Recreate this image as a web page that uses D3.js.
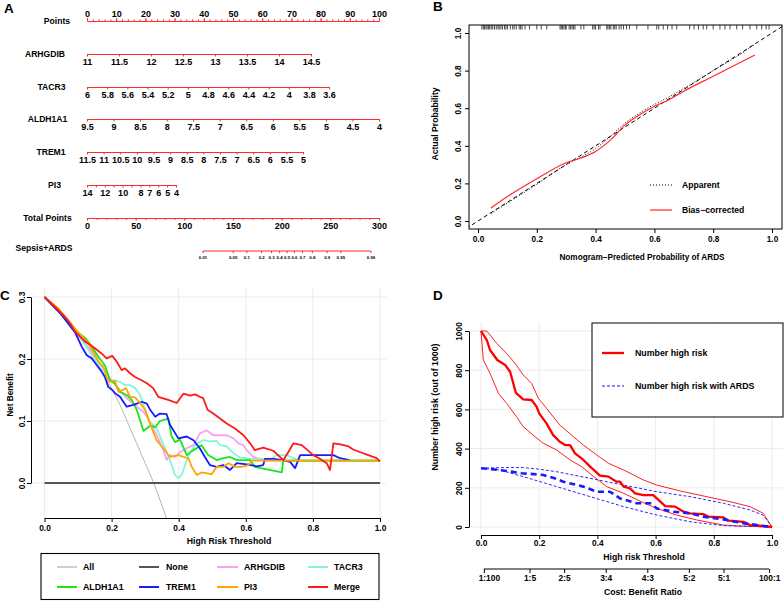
<!DOCTYPE html>
<html><head><meta charset="utf-8">
<script src="https://cdn.jsdelivr.net/npm/d3@7/dist/d3.min.js"></script>
<style>
body{margin:0;background:#fff}
svg{font-family:"Liberation Sans",Arial,Helvetica,sans-serif;font-weight:bold}
</style></head>
<body><svg id="chart" width="784" height="601"></svg>
<script>
// ================= DATA =================
// Panel A – nomogram
const pointsTicks=[0,10,20,30,40,50,60,70,80,90,100];
const pointsMinor=d3.range(0,101,2);
const nomoVars=["ARHGDIB","TACR3","ALDH1A1","TREM1","PI3"];
const arhgdibTicks=[11,11.5,12,12.5,13,13.5,14,14.5];
const tacr3Ticks=[6,5.8,5.6,5.4,5.2,5,4.8,4.6,4.4,4.2,4,3.8,3.6];
const aldh1a1Ticks=[9.5,9,8.5,8,7.5,7,6.5,6,5.5,5,4.5,4];
const trem1Ticks=[11.5,11,10.5,10,9.5,9,8.5,8,7.5,7,6.5,6,5.5,5];
const pi3Ticks=[14,13,12,11,10,9,8,7,6,5,4];
const pi3Labels=[14,12,10,8,7,6,5,4];
const nomoMaxPoints=[76.7,82.9,100,74,30.5];
const totalPointsTicks=[0,50,100,150,200,250,300];
const totalPointsMinor=d3.range(0,301,10);
const riskTicks=[0.01,0.05,0.1,0.2,0.3,0.4,0.5,0.6,0.7,0.8,0.9,0.95,0.99];
const riskPointsRange=[119.2,291.8];

// Panel B – calibration
const calTicks=[0,0.2,0.4,0.6,0.8,1.0];
const apparentX=[0.044,0.1,0.2,0.3,0.35,0.4,0.45,0.5,0.55,0.6,0.65,0.7,0.8,0.9,0.942];
const apparentY=[0.04,0.095,0.195,0.3,0.34,0.385,0.45,0.52,0.575,0.62,0.66,0.705,0.8,0.895,0.94];
const biasX=[0.044,0.1,0.2,0.3,0.35,0.4,0.45,0.5,0.55,0.6,0.65,0.7,0.8,0.9,0.942];
const biasY=[0.069,0.13,0.225,0.31,0.335,0.37,0.43,0.51,0.565,0.61,0.645,0.69,0.77,0.85,0.883];
const rugValues=[0.013,0.018,0.022,0.027,0.031,0.036,0.04,0.045,0.05,0.056,0.062,0.068,0.072,0.078,0.083,0.09,0.095,0.1,0.11,0.118,0.123,0.13,0.14,0.145,0.15,0.16,0.175,0.2,0.215,0.234,
0.279,0.283,0.287,0.292,0.297,0.3,0.31,0.315,0.32,0.325,0.33,0.35,0.36,0.39,0.395,0.4,0.41,0.415,
0.438,0.442,0.447,0.452,0.46,0.465,0.47,0.48,0.487,0.495,0.505,0.515,0.54,
0.578,0.608,0.615,0.63,0.645,0.66,0.676,0.72,0.735,0.75,0.766,0.778,0.8,0.823,0.84,0.857,0.88,0.9,0.925,0.948,0.965,0.98,0.99];

// Panel C – decision curves
const dcaTicksX=[0,0.2,0.4,0.6,0.8,1.0];
const dcaTicksY=[0,0.1,0.2,0.3];
const allT=[0,0.1,0.15,0.2,0.225,0.25,0.3,0.324,0.34,0.37];
const allNB=[0.3,0.237,0.2,0.152,0.126,0.095,0.032,0.002,-0.021,-0.067];
const noneT=[0,1];
const noneNB=[0,0];
const arhgdibT=[0,0.05,0.1,0.15,0.2,0.225,0.245,0.275,0.295,0.309,0.324,0.339,0.354,0.364,0.374,0.389,0.404,0.424,0.444,0.463,0.483,0.503,0.523,0.543,0.563,0.578,0.593,0.603,0.622,0.642,0.66,1.0];
const arhgdibNB=[0.3,0.273,0.24,0.205,0.165,0.15,0.137,0.123,0.115,0.104,0.088,0.072,0.053,0.037,0.045,0.042,0.05,0.056,0.061,0.08,0.085,0.077,0.077,0.077,0.072,0.064,0.061,0.053,0.042,0.039,0.036,0.036];
const tacr3T=[0,0.05,0.101,0.121,0.141,0.16,0.18,0.195,0.21,0.225,0.24,0.255,0.27,0.285,0.3,0.314,0.334,0.349,0.364,0.379,0.389,0.399,0.409,0.419,0.434,0.454,0.473,0.493,0.513,0.523,0.543,0.563,0.583,0.622,0.652,0.672,0.692,0.722,0.742,0.76,1.0];
const tacr3NB=[0.3,0.274,0.241,0.223,0.206,0.193,0.171,0.166,0.165,0.163,0.158,0.158,0.153,0.142,0.118,0.099,0.088,0.069,0.05,0.029,0.013,0.008,0.013,0.029,0.05,0.064,0.069,0.067,0.068,0.061,0.059,0.048,0.041,0.039,0.039,0.037,0.045,0.045,0.04,0.036,0.036];
const aldh1a1T=[0,0.05,0.091,0.121,0.141,0.16,0.18,0.195,0.21,0.225,0.245,0.26,0.275,0.295,0.314,0.33,0.344,0.369,0.379,0.389,0.404,0.424,0.444,0.468,0.488,0.513,0.533,0.553,0.573,0.613,0.627,0.707,0.712,1.0];
const aldh1a1NB=[0.3,0.273,0.246,0.234,0.22,0.204,0.19,0.166,0.16,0.147,0.142,0.134,0.118,0.084,0.092,0.09,0.1,0.104,0.075,0.066,0.07,0.045,0.053,0.061,0.045,0.037,0.04,0.042,0.037,0.037,0.026,0.017,0.036,0.036];
const trem1T=[0,0.05,0.091,0.111,0.126,0.141,0.156,0.17,0.18,0.19,0.202,0.21,0.225,0.245,0.265,0.29,0.305,0.315,0.33,0.344,0.364,0.374,0.399,0.424,0.444,0.463,0.478,0.493,0.513,0.533,0.553,0.573,0.603,0.632,0.652,0.657,0.682,0.712,0.732,0.747,0.762,0.861,0.881,0.91];
const trem1NB=[0.3,0.272,0.243,0.22,0.206,0.201,0.19,0.18,0.171,0.155,0.15,0.145,0.139,0.123,0.126,0.131,0.128,0.118,0.107,0.112,0.111,0.094,0.072,0.075,0.069,0.056,0.042,0.029,0.026,0.029,0.021,0.032,0.03,0.027,0.029,0.039,0.039,0.037,0.034,0.024,0.045,0.045,0.04,0.037];
const pi3T=[0,0.041,0.091,0.131,0.151,0.163,0.175,0.185,0.195,0.21,0.22,0.233,0.243,0.255,0.27,0.285,0.3,0.314,0.334,0.354,0.374,0.399,0.414,0.429,0.439,0.454,0.468,0.483,0.498,0.513,0.533,0.548,0.568,0.588,0.607,0.618,1.0];
const pi3NB=[0.3,0.282,0.249,0.225,0.206,0.194,0.188,0.171,0.163,0.165,0.147,0.15,0.153,0.139,0.138,0.129,0.118,0.096,0.069,0.056,0.042,0.045,0.042,0.04,0.026,0.013,0.017,0.016,0.014,0.026,0.026,0.032,0.026,0.026,0.029,0.036,0.036];
const mergeT=[0,0.041,0.061,0.076,0.091,0.106,0.121,0.136,0.151,0.17,0.185,0.202,0.215,0.23,0.24,0.255,0.27,0.285,0.305,0.324,0.339,0.369,0.394,0.414,0.434,0.449,0.463,0.473,0.486,0.503,0.523,0.543,0.568,0.593,0.613,0.627,0.652,0.682,0.712,0.727,0.742,0.767,0.801,0.821,0.841,0.851,0.861,0.886,0.906,0.92,0.94,0.965,0.99,1.0];
const mergeNB=[0.3,0.279,0.268,0.258,0.244,0.236,0.228,0.223,0.217,0.209,0.201,0.205,0.196,0.182,0.185,0.177,0.171,0.167,0.161,0.153,0.139,0.134,0.129,0.144,0.141,0.143,0.139,0.137,0.118,0.112,0.104,0.096,0.088,0.077,0.064,0.053,0.057,0.052,0.037,0.05,0.064,0.061,0.045,0.039,0.032,0.021,0.064,0.062,0.059,0.054,0.05,0.045,0.04,0.035];

// Panel D – clinical impact
const impactTicksX=[0,0.2,0.4,0.6,0.8,1.0];
const impactTicksY=[0,200,400,600,800,1000];
const highRiskT=[0,0.02,0.031,0.056,0.083,0.1,0.12,0.145,0.174,0.191,0.2,0.225,0.248,0.271,0.289,0.306,0.323,0.352,0.375,0.409,0.438,0.466,0.478,0.49,0.512,0.529,0.558,0.592,0.604,0.633,0.667,0.696,0.718,0.764,0.78,0.833,0.85,0.902,0.924,0.97,1.0];
const highRiskN=[1000,954,903,852,827,792,684,651,648,614,580,529,469,435,418,418,376,342,308,262,257,231,231,206,197,172,163,163,146,107,104,78,70,66,53,49,32,26,10,5,0];
const highRiskUpT=[0,0.02,0.054,0.088,0.117,0.145,0.174,0.197,0.225,0.271,0.311,0.352,0.398,0.438,0.49,0.558,0.604,0.684,0.787,0.856,0.924,0.97,1.0];
const highRiskUpN=[1000,1000,937,886,835,776,733,657,606,520,469,418,367,325,291,240,214,184,151,129,104,70,0];
const highRiskLoT=[0,0.008,0.031,0.06,0.088,0.122,0.145,0.179,0.214,0.26,0.306,0.346,0.385,0.432,0.49,0.558,0.604,0.672,0.741,0.833,0.89,1.0];
const highRiskLoN=[1000,852,784,682,631,563,512,469,427,393,342,308,260,206,172,124,95,61,36,10,5,0];
const eventT=[0,0.03,0.088,0.14,0.18,0.214,0.25,0.283,0.352,0.398,0.443,0.478,0.535,0.581,0.604,0.661,0.718,0.764,0.833,0.902,0.948,1.0];
const eventN=[300,296,286,274,270,265,250,231,206,180,180,146,121,121,95,78,70,53,39,19,10,0];
const eventUpT=[0,0.05,0.1,0.145,0.2,0.26,0.375,0.49,0.604,0.718,0.833,0.924,0.97,0.99,1.0];
const eventUpN=[300,302,304,303,295,282,248,214,180,155,121,87,60,20,0];
const eventLoT=[0,0.065,0.145,0.26,0.375,0.49,0.604,0.718,0.833,1.0];
const eventLoN=[300,291,257,206,155,104,61,27,7,0];
const costBenefitLabels=["1:100","1:5","2:5","3:4","4:3","5:2","5:1","100:1"];

// ================= DRAWING =================
const svg=d3.select("#chart");
const RED="#ff2a2a";
const zip=(a,b)=>a.map((v,i)=>[v,b[i]]);
function text(g,x,y,s,size,anchor,rot){
  const t=g.append("text").attr("font-size",size).attr("text-anchor",anchor||"start").attr("fill","#000").text(s);
  if(rot) t.attr("transform",`translate(${x},${y}) rotate(${rot})`); else t.attr("x",x).attr("y",y);
  return t;
}
function cleanAxis(a){a.attr("font-family",null).attr("font-size",null);return a;}

// ---------- Panel A ----------
const gA=svg.append("g");
text(gA,4,12.5,"A",13.5);
const ptsX=d3.scaleLinear().domain([0,100]).range([87,379]);
function nomoAxis(scale,ticks,labels,y,up,tickLen,labelY,fs){
  const ax=(up?d3.axisTop(scale):d3.axisBottom(scale)).tickValues(ticks).tickSize(tickLen).tickSizeOuter(0)
    .tickFormat(d=>labels.includes(d)?String(d):"");
  const a=cleanAxis(gA.append("g").attr("transform",`translate(0,${y})`).call(ax));
  a.select(".domain").attr("stroke",RED).attr("stroke-width",1.1);
  a.selectAll(".tick line").attr("stroke",RED);
  a.selectAll(".tick text").attr("y",labelY).attr("dy",null).attr("fill","#000").attr("font-size",fs);
  return a;
}
// Points
nomoAxis(ptsX,pointsMinor,[],21,true,1.6,0,9);
nomoAxis(ptsX,pointsTicks,pointsTicks,21,true,3,-4,9);
const rowLabelX=[57,45,51.5,47.5,51,54.5,47.5,44];
text(gA,rowLabelX[0],23.5,"Points",8.6,"middle");
// variable rows
const varTicks=[arhgdibTicks,tacr3Ticks,aldh1a1Ticks,trem1Ticks,pi3Ticks];
const varLabels=[arhgdibTicks,tacr3Ticks,aldh1a1Ticks,trem1Ticks,pi3Labels];
const rowY=[54,87,119,152,185];
nomoVars.forEach((name,i)=>{
  const tk=varTicks[i];
  const sc=d3.scaleLinear().domain([tk[0],tk[tk.length-1]]).range([ptsX(0),ptsX(nomoMaxPoints[i])]);
  nomoAxis(sc,tk,varLabels[i],rowY[i],false,2.5,11,9);
  text(gA,rowLabelX[i+1],rowY[i]+2.5,name,8.6,"middle");
});
// Total points
const totX=d3.scaleLinear().domain([0,300]).range([87,379]);
nomoAxis(totX,totalPointsMinor,[],218,false,1.8,0,9);
nomoAxis(totX,totalPointsTicks,totalPointsTicks,218,false,2.5,10.5,9);
text(gA,rowLabelX[6],220.5,"Total Points",8.6,"middle");
// Risk axis (logit scale)
const logit=p=>Math.log(p/(1-p));
const lpToPts=d3.scaleLinear().domain([logit(0.01),logit(0.99)]).range(riskPointsRange);
const riskScale=p=>totX(lpToPts(logit(p)));
riskScale.copy=()=>riskScale; riskScale.range=()=>[riskScale(0.01),riskScale(0.99)]; riskScale.domain=()=>[0.01,0.99];
{
  const a=gA.append("g").attr("transform","translate(0,251)");
  a.append("line").attr("x1",riskScale(0.01)).attr("x2",riskScale(0.99)).attr("stroke",RED).attr("stroke-width",1.1);
  const t=a.selectAll("g").data(riskTicks).join("g").attr("transform",d=>`translate(${riskScale(d)},0)`);
  t.append("line").attr("y2",2.2).attr("stroke",RED);
  t.append("text").attr("y",8).attr("font-size",4.4).attr("text-anchor","middle").text(d=>String(d));
}
text(gA,rowLabelX[7],251,"Sepsis+ARDS",8.6,"middle");

// ---------- Panel B ----------
const gB=svg.append("g");
text(gB,433,11,"B",13.5);
const bx=d3.scaleLinear().domain([0,1]).range([478,772]);
const by=d3.scaleLinear().domain([0,1]).range([221,33]);
const boxB={x0:469,x1:782,y0:25,y1:229};
gB.append("clipPath").attr("id","clipB").append("rect").attr("x",boxB.x0).attr("y",boxB.y0).attr("width",boxB.x1-boxB.x0).attr("height",boxB.y1-boxB.y0);
gB.append("rect").attr("x",boxB.x0).attr("y",boxB.y0).attr("width",boxB.x1-boxB.x0).attr("height",boxB.y1-boxB.y0).attr("fill","none").attr("stroke","#000").attr("stroke-width",1);
// x axis
{
  const a=cleanAxis(gB.append("g").attr("transform",`translate(0,${boxB.y1})`).call(d3.axisBottom(bx).tickValues(calTicks).tickSize(4).tickFormat(d3.format(".1f"))));
  a.select(".domain").remove();
  a.selectAll(".tick text").attr("y",13).attr("dy",null).attr("font-size",8.2).attr("fill","#000");
  const b=cleanAxis(gB.append("g").attr("transform",`translate(${boxB.x0},0)`).call(d3.axisLeft(by).tickValues(calTicks).tickSize(4).tickFormat(d3.format(".1f"))));
  b.select(".domain").remove();
  b.selectAll(".tick text").attr("x",null).attr("dy",null).attr("text-anchor","middle").attr("transform","translate(-8,0) rotate(-90)").attr("font-size",8.2).attr("fill","#000");
}
text(gB,642,260,"Nomogram\u2212Predicted Probability of ARDS",8.2,"middle");
text(gB,438,124,"Actual Probability",8.6,"middle",-90);
const cB=gB.append("g").attr("clip-path","url(#clipB)");
cB.append("line").attr("x1",bx(-0.04)).attr("y1",by(-0.04)).attr("x2",bx(1.05)).attr("y2",by(1.05)).attr("stroke","#000").attr("stroke-dasharray","4,3").attr("stroke-width",1);
const lineB=d3.line().x(d=>bx(d[0])).y(d=>by(d[1])).curve(d3.curveMonotoneX);
cB.append("path").attr("d",lineB(zip(apparentX,apparentY))).attr("fill","none").attr("stroke","#000").attr("stroke-width",1).attr("stroke-dasharray","1,2");
cB.append("path").attr("d",lineB(zip(biasX,biasY))).attr("fill","none").attr("stroke",RED).attr("stroke-width",1.2);
cB.selectAll(".rug").data(rugValues).join("line").attr("x1",d=>bx(d)).attr("x2",d=>bx(d)).attr("y1",boxB.y0).attr("y2",boxB.y0+4.5).attr("stroke","#000").attr("stroke-width",0.7);
gB.append("line").attr("x1",650).attr("x2",672).attr("y1",185).attr("y2",185).attr("stroke","#000").attr("stroke-dasharray","1,2");
text(gB,682,188,"Apparent",8.6);
gB.append("line").attr("x1",650).attr("x2",672).attr("y1",210).attr("y2",210).attr("stroke",RED).attr("stroke-width",1.2);
text(gB,682,213,"Bias\u2212corrected",8.6);

// ---------- Panel C ----------
const gC=svg.append("g");
text(gC,0,300,"C",13.5);
const cx=d3.scaleLinear().domain([0,1]).range([44.5,380]);
const cy=d3.scaleLinear().domain([0,0.3]).range([483,297]);
const grid="#ebebeb";
gC.selectAll(".gv").data(dcaTicksX).join("line").attr("x1",d=>cx(d)).attr("x2",d=>cx(d)).attr("y1",288).attr("y2",518).attr("stroke",grid);
gC.selectAll(".gh").data(dcaTicksY).join("line").attr("x1",31).attr("x2",386).attr("y1",d=>cy(d)).attr("y2",d=>cy(d)).attr("stroke",grid);
{
  const a=cleanAxis(gC.append("g").attr("transform","translate(0,518)").call(d3.axisBottom(cx).tickValues(dcaTicksX).tickSize(4).tickSizeOuter(0).tickFormat(d3.format(".1f"))));
  a.select(".domain").attr("stroke","#000");
  a.selectAll(".tick text").attr("y",13).attr("dy",null).attr("font-size",8.4).attr("fill","#000");
  const b=cleanAxis(gC.append("g").attr("transform","translate(31,0)").call(d3.axisLeft(cy).tickValues(dcaTicksY).tickSize(4).tickSizeOuter(0).tickFormat(d3.format(".1f"))));
  b.select(".domain").attr("stroke","#000");
  b.selectAll(".tick text").attr("x",null).attr("dy",null).attr("text-anchor","middle").attr("transform","translate(-6,0) rotate(-90)").attr("font-size",8.4).attr("fill","#000");
}
text(gC,229,544,"High Risk Threshold",8.7,"middle");
text(gC,13,395,"Net Benefit",8.2,"middle",-90);
gC.append("clipPath").attr("id","clipC").append("rect").attr("x",31).attr("y",285).attr("width",355).attr("height",233);
const cC=gC.append("g").attr("clip-path","url(#clipC)");
const lineC=d3.line().x(d=>cx(d[0])).y(d=>cy(d[1]));
const dcaSeries=[
  {name:"All",t:allT,v:allNB,color:"#b5b5b5",w:1,curve:true},
  {name:"None",t:noneT,v:noneNB,color:"#555555",w:1.8},
  {name:"ARHGDIB",t:arhgdibT,v:arhgdibNB,color:"#f7a1f2",w:1.8},
  {name:"TACR3",t:tacr3T,v:tacr3NB,color:"#84f5d5",w:1.8},
  {name:"ALDH1A1",t:aldh1a1T,v:aldh1a1NB,color:"#17e617",w:1.8},
  {name:"TREM1",t:trem1T,v:trem1NB,color:"#1a1aff",w:1.8},
  {name:"PI3",t:pi3T,v:pi3NB,color:"#ffa500",w:1.8},
  {name:"Merge",t:mergeT,v:mergeNB,color:"#ff1a1a",w:1.8}
];
dcaSeries.forEach(s=>{
  const ln=s.curve?d3.line().x(d=>cx(d[0])).y(d=>cy(d[1])).curve(d3.curveMonotoneX):lineC;
  cC.append("path").attr("d",ln(zip(s.t,s.v))).attr("fill","none").attr("stroke",s.color).attr("stroke-width",s.w).attr("stroke-linejoin","round");
});
// legend C
gC.append("rect").attr("x",41).attr("y",553.5).attr("width",338).attr("height",46).attr("fill","#fff").attr("stroke","#000").attr("stroke-width",1.1);
const legCols=[[57,77,83],[139,159,166],[217,238,244],[308,328,334]];
const legRows=[567,587];
dcaSeries.forEach((s,i)=>{
  const c=legCols[i%4], r=legRows[Math.floor(i/4)];
  gC.append("line").attr("x1",c[0]).attr("x2",c[1]).attr("y1",r).attr("y2",r).attr("stroke",s.color).attr("stroke-width",i===0?1.3:2);
  text(gC,c[2],r+3,s.name,8.8);
});

// ---------- Panel D ----------
const gD=svg.append("g");
text(gD,433,300,"D",13.5);
const dx=d3.scaleLinear().domain([0,1]).range([481,772]);
const dy=d3.scaleLinear().domain([0,1000]).range([527,331]);
gD.selectAll(".gv").data(impactTicksX).join("line").attr("x1",d=>dx(d)).attr("x2",d=>dx(d)).attr("y1",322).attr("y2",535).attr("stroke",grid);
gD.selectAll(".gh").data(impactTicksY).join("line").attr("x1",469).attr("x2",783).attr("y1",d=>dy(d)).attr("y2",d=>dy(d)).attr("stroke",grid);
{
  const a=cleanAxis(gD.append("g").attr("transform","translate(0,535)").call(d3.axisBottom(dx).tickValues(impactTicksX).tickSize(4).tickSizeOuter(0).tickFormat(d3.format(".1f"))));
  a.select(".domain").attr("stroke","#000");
  a.selectAll(".tick text").attr("y",11).attr("dy",null).attr("font-size",8.4).attr("fill","#000");
  const b=cleanAxis(gD.append("g").attr("transform","translate(469,0)").call(d3.axisLeft(dy).tickValues(impactTicksY).tickSize(4).tickSizeOuter(0).tickFormat(d3.format("d"))));
  b.select(".domain").attr("stroke","#000");
  b.selectAll(".tick text").attr("x",null).attr("dy",null).attr("text-anchor","middle").attr("transform","translate(-7,0) rotate(-90)").attr("font-size",8.4).attr("fill","#000");
  // cost:benefit axis
  const cbT=costBenefitLabels.map(s=>{const [a1,b1]=s.split(":").map(Number);return a1/(a1+b1);});
  const c=cleanAxis(gD.append("g").attr("transform","translate(0,569)").call(d3.axisBottom(dx).tickValues(cbT).tickSize(4).tickSizeOuter(0).tickFormat((d,i)=>costBenefitLabels[i])));
  c.select(".domain").attr("d",`M${dx(cbT[0])},0H${dx(cbT[cbT.length-1])}`).attr("stroke","#000");
  c.selectAll(".tick text").attr("y",12).attr("dy",null).attr("font-size",8.4).attr("fill","#000");
  c.selectAll(".tick text").filter((d,i)=>i===0).attr("dx",5);
}
text(gD,644,560,"High risk Threshold",8.7,"middle");
text(gD,643,595,"Cost: Benefit Ratio",8.7,"middle");
text(gD,438,407,"Number high risk (out of 1000)",8.8,"middle",-90);
const lineD=d3.line().x(d=>dx(d[0])).y(d=>dy(d[1]));
const impactSeries=[
  {t:highRiskUpT,v:highRiskUpN,color:"#ff2020",w:1,dash:null},
  {t:highRiskLoT,v:highRiskLoN,color:"#ff2020",w:1,dash:null},
  {t:eventUpT,v:eventUpN,color:"#2a2aff",w:1,dash:"3,2"},
  {t:eventLoT,v:eventLoN,color:"#2a2aff",w:1,dash:"3,2"},
  {t:highRiskT,v:highRiskN,color:"#ff0000",w:2.3,dash:null},
  {t:eventT,v:eventN,color:"#1a1aff",w:2.6,dash:"6,4"}
];
impactSeries.forEach(s=>{
  gD.append("path").attr("d",lineD(zip(s.t,s.v))).attr("fill","none").attr("stroke",s.color).attr("stroke-width",s.w).attr("stroke-dasharray",s.dash).attr("stroke-linejoin","round");
});
gD.append("rect").attr("x",592).attr("y",323).attr("width",191).attr("height",94).attr("fill","#fff").attr("stroke","#000").attr("stroke-width",1);
gD.append("line").attr("x1",602).attr("x2",624).attr("y1",353).attr("y2",353).attr("stroke","#ff0000").attr("stroke-width",2.3);
text(gD,635,356,"Number high risk",8.8);
gD.append("line").attr("x1",602).attr("x2",624).attr("y1",386).attr("y2",386).attr("stroke","#1a1aff").attr("stroke-width",1.2).attr("stroke-dasharray","3,2");
text(gD,635,389,"Number high risk with ARDS",8.8);
</script></body></html>
